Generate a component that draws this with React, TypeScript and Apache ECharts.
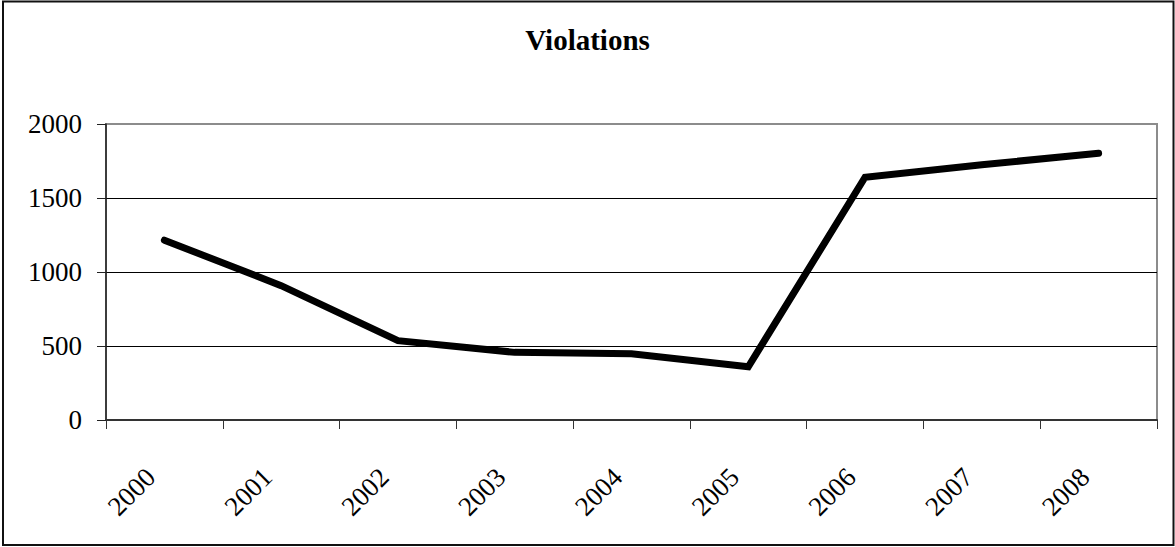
import React, { useEffect, useRef } from "react";
import * as echarts from "echarts";

const titleText = "Violations";
const years = ["2000", "2001", "2002", "2003", "2004", "2005", "2006", "2007", "2008"];
const violations = [1215, 908, 536, 457, 447, 360, 1640, 1725, 1802];
const yTicks = { min: 0, max: 2000, interval: 500 };

const FONT = "'Liberation Serif', 'Times New Roman', serif";

export default function App() {
  const ref = useRef<HTMLDivElement>(null);
  useEffect(() => {
    document.body.style.margin = "0";
    const chart = echarts.init(ref.current!, null, { renderer: "svg" });
    chart.setOption({
      animation: false,
      backgroundColor: "#fff",
      title: {
        text: titleText,
        left: "center",
        top: 20,
        textStyle: { fontFamily: FONT, fontSize: 29, fontWeight: "bold", color: "#000" },
      },
      graphic: [
        {
          type: "rect",
          shape: { x: 3, y: 1.5, width: 1170.5, height: 543.5 },
          style: { fill: "none", stroke: "#111", lineWidth: 2 },
          silent: true,
        },
      ],
      grid: {
        left: 106,
        right: 18,
        top: 124,
        bottom: 127,
        show: true,
        borderColor: "#8c8c8c",
        borderWidth: 2,
        backgroundColor: "transparent",
      },
      xAxis: {
        type: "category",
        data: years,
        boundaryGap: true,
        axisLine: { show: true, lineStyle: { color: "#333", width: 2 } },
        axisTick: { show: true, length: 9, alignWithLabel: false, lineStyle: { color: "#333", width: 1 } },
        axisLabel: {
          rotate: 45,
          margin: 58,
          fontFamily: FONT,
          fontSize: 27,
          color: "#000",
          interval: 0,
          verticalAlign: "bottom",
          padding: [0, 6, 0, 0],
        },
        splitLine: { show: false },
      },
      yAxis: {
        type: "value",
        min: yTicks.min,
        max: yTicks.max,
        interval: yTicks.interval,
        axisLine: { show: true, lineStyle: { color: "#222", width: 1.5 } },
        axisTick: { show: true, length: 9, lineStyle: { color: "#222", width: 1 } },
        axisLabel: {
          margin: 24,
          fontFamily: FONT,
          fontSize: 27,
          color: "#000",
          formatter: (v: number) => String(v),
        },
        splitLine: {
          show: true,
          lineStyle: { color: ["#000", "#000", "#000", "#000", "#8c8c8c"], width: 1 },
        },
      },
      series: [
        {
          type: "line",
          data: violations,
          showSymbol: false,
          symbol: "none",
          lineStyle: { color: "#000", width: 7, cap: "round", join: "miter" },
        },
      ],
    });
    return () => chart.dispose();
  }, []);
  return (
    <div
      ref={ref}
      style={{ position: "fixed", left: 0, top: 0, width: 1175, height: 547 }}
    />
  );
}
